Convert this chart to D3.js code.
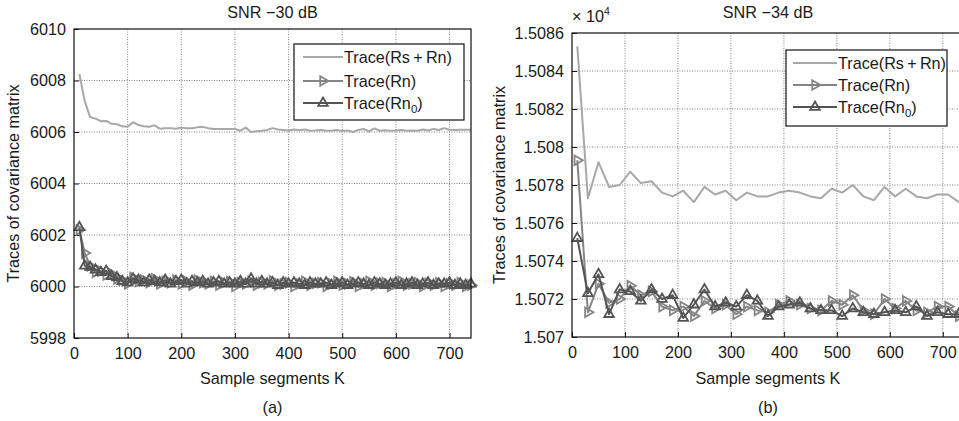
<!DOCTYPE html>
<html>
<head>
<meta charset="utf-8">
<script src="https://cdnjs.cloudflare.com/ajax/libs/d3/7.8.5/d3.min.js"></script>
<style>
  body { margin: 0; background: #fff; }
  text { font-family: "Liberation Sans", Arial, sans-serif; fill: #1a1a1a; }
</style>
</head>
<body>
<div id="chart"></div>
<script>
// ---- panel (a): SNR -30 dB, sample every 10 segments
const kA = [10,20,30,40,50,60,70,80,90,100,110,120,130,140,150,160,170,180,190,200,
  210,220,230,240,250,260,270,280,290,300,310,320,330,340,350,360,370,380,390,400,
  410,420,430,440,450,460,470,480,490,500,510,520,530,540,550,560,570,580,590,600,
  610,620,630,640,650,660,670,680,690,700,710,720,730,740];
const rsrnA = [6008.25,6007.2,6006.58,6006.52,6006.42,6006.43,6006.32,6006.3,6006.22,6006.2,
  6006.38,6006.27,6006.22,6006.2,6006.26,6006.13,6006.15,6006.15,6006.13,6006.17,
  6006.15,6006.15,6006.18,6006.2,6006.15,6006.12,6006.12,6006.12,6006.12,6006.12,
  6006.05,6006.17,6006.0,6006.03,6006.05,6006.08,6006.15,6006.1,6006.08,6006.06,
  6006.1,6006.07,6006.1,6006.05,6006.06,6006.08,6006.05,6006.05,6006.08,6006.04,
  6006.06,6006.0,6006.08,6006.12,6006.02,6006.14,6006.05,6006.07,6006.05,6006.06,
  6006.08,6006.05,6006.06,6006.05,6006.1,6006.06,6006.12,6006.08,6006.15,6006.09,
  6006.08,6006.09,6006.09,6006.09];
const rnA = [6002.2,6001.3,6000.8,6000.55,6000.6,6000.45,6000.5,6000.3,6000.25,6000.1,
  6000.35,6000.2,6000.25,6000.15,6000.3,6000.1,6000.2,6000.15,6000.25,6000.1,
  6000.2,6000.05,6000.25,6000.15,6000.1,6000.2,6000.05,6000.15,6000.2,6000.0,
  6000.15,6000.1,6000.2,6000.05,6000.15,6000.1,6000.22,6000.05,6000.1,6000.15,
  6000.0,6000.1,6000.2,6000.05,6000.12,6000.15,6000.0,6000.1,6000.2,6000.05,
  6000.1,6000.18,6000.0,6000.1,6000.2,6000.05,6000.12,6000.15,6000.0,6000.1,
  6000.2,6000.05,6000.1,6000.15,6000.0,6000.12,6000.05,6000.15,6000.0,6000.1,
  6000.05,6000.15,6000.0,6000.05];
const rn0A = [6002.3,6000.8,6000.75,6000.65,6000.55,6000.6,6000.4,6000.35,6000.2,6000.15,
  6000.3,6000.25,6000.15,6000.25,6000.2,6000.15,6000.25,6000.1,6000.2,6000.25,
  6000.1,6000.2,6000.15,6000.2,6000.1,6000.15,6000.2,6000.1,6000.15,6000.1,
  6000.2,6000.1,6000.3,6000.1,6000.2,6000.1,6000.15,6000.05,6000.15,6000.1,
  6000.15,6000.1,6000.05,6000.15,6000.1,6000.1,6000.15,6000.05,6000.1,6000.15,
  6000.05,6000.1,6000.15,6000.1,6000.05,6000.15,6000.1,6000.05,6000.1,6000.15,
  6000.05,6000.1,6000.15,6000.05,6000.1,6000.15,6000.05,6000.1,6000.1,6000.15,
  6000.05,6000.1,6000.05,6000.1];
const yTicksA = [5998, 6000, 6002, 6004, 6006, 6008, 6010];
const yLabelsA = ["5998", "6000", "6002", "6004", "6006", "6008", "6010"];

// ---- panel (b): SNR -34 dB, sample every 20 segments
const kB = [10,30,50,70,90,110,130,150,170,190,210,230,250,270,290,310,330,350,370,
  390,410,430,450,470,490,510,530,550,570,590,610,630,650,670,690,710,730];
const rsrnB = [15085.3,15077.3,15079.2,15077.9,15078.0,15078.7,15078.1,15078.2,15077.6,15077.4,
  15077.7,15077.1,15077.9,15077.5,15077.7,15077.2,15077.6,15077.4,15077.4,
  15077.6,15077.7,15077.6,15077.4,15077.3,15077.8,15077.6,15078.0,15077.4,15077.2,
  15077.9,15077.4,15077.8,15077.4,15077.3,15077.5,15077.5,15077.1];
const rnB = [15079.3,15071.3,15072.8,15071.8,15072.0,15072.7,15072.2,15072.4,15071.6,15071.4,
  15071.6,15071.1,15071.9,15071.5,15071.7,15071.2,15071.6,15071.4,15071.3,
  15071.7,15071.9,15071.7,15071.5,15071.4,15071.9,15071.7,15072.2,15071.4,15071.2,
  15072.0,15071.5,15071.9,15071.4,15071.3,15071.6,15071.6,15071.1];
const rn0B = [15075.2,15072.3,15073.3,15071.2,15072.5,15072.4,15071.9,15072.5,15072.0,15072.2,
  15071.0,15071.7,15072.5,15071.6,15071.8,15071.6,15072.2,15071.9,15071.1,
  15071.6,15071.7,15071.8,15071.5,15071.4,15071.4,15071.1,15071.5,15071.3,15071.2,
  15071.3,15071.4,15071.3,15071.6,15071.1,15071.3,15071.2,15071.2];
const yTicksB = [15070, 15072, 15074, 15076, 15078, 15080, 15082, 15084, 15086];
const yLabelsB = ["1.507", "1.5072", "1.5074", "1.5076", "1.5078", "1.508", "1.5082", "1.5084", "1.5086"];

const xTicks = [0, 100, 200, 300, 400, 500, 600, 700];
const xLabels = ["0", "100", "200", "300", "400", "500", "600", "700"];

const W = 959, H = 421;
const FS = 16.2;
const colRsRn = "#a8a8a8", colRn = "#858585", colRn0 = "#545454";

const svg = d3.select("#chart").append("svg")
  .attr("width", W).attr("height", H);

const triUp = d3.symbol().type(d3.symbolTriangle).size(40);

function panel(opt) {
  const x = d3.scaleLinear().domain([0, 740]).range([opt.left, opt.right]);
  const y = d3.scaleLinear().domain(opt.yDomain).range([opt.bottom, opt.top]);
  const g = svg.append("g");

  // grid (MATLAB style dotted)
  g.append("g").selectAll("line").data(xTicks.slice(1)).join("line")
    .attr("x1", d => x(d)).attr("x2", d => x(d))
    .attr("y1", opt.top).attr("y2", opt.bottom)
    .attr("stroke", "#666").attr("stroke-width", 0.8).attr("stroke-dasharray", "1,1.5");
  g.append("g").selectAll("line").data(opt.yTicks.slice(1, -1)).join("line")
    .attr("x1", opt.left).attr("x2", opt.right)
    .attr("y1", d => y(d)).attr("y2", d => y(d))
    .attr("stroke", "#666").attr("stroke-width", 0.8).attr("stroke-dasharray", "1,1.5");

  // axes with inward ticks
  const xAx = g.append("g").attr("transform", `translate(0,${opt.bottom})`)
    .call(d3.axisBottom(x).tickValues(xTicks).tickSizeInner(-5).tickSizeOuter(0)
      .tickPadding(9).tickFormat((d, i) => xLabels[i]));
  const yAx = g.append("g").attr("transform", `translate(${opt.left},0)`)
    .call(d3.axisLeft(y).tickValues(opt.yTicks).tickSizeInner(-5).tickSizeOuter(0)
      .tickPadding(8).tickFormat((d, i) => opt.yLabels[i]));
  [xAx, yAx].forEach(a => {
    a.select(".domain").remove();
    a.selectAll("text").attr("font-size", FS).attr("fill", "#1a1a1a")
      .style("font-family", '"Liberation Sans", Arial, sans-serif');
    a.selectAll(".tick line").attr("stroke", "#111");
  });

  // series
  const line = d3.line().x(d => x(d[0])).y(d => y(d[1]));
  const series = [
    { v: opt.rsrn, c: colRsRn, m: null },
    { v: opt.rn, c: colRn, m: "right" },
    { v: opt.rn0, c: colRn0, m: "up" }
  ];
  series.forEach(s => {
    const pts = opt.k.map((k, i) => [k, s.v[i]]);
    g.append("path").datum(pts).attr("d", line)
      .attr("fill", "none").attr("stroke", s.c).attr("stroke-width", 2)
      .attr("stroke-linejoin", "round");
    if (s.m) {
      g.append("g").selectAll("path").data(pts).join("path")
        .attr("d", triUp)
        .attr("transform", d => `translate(${x(d[0])},${y(d[1])})` + (s.m === "right" ? " rotate(90)" : ""))
        .attr("fill", "none").attr("stroke", s.c).attr("stroke-width", 1.8);
    }
  });

  // frame
  g.append("rect").attr("x", opt.left).attr("y", opt.top)
    .attr("width", opt.right - opt.left).attr("height", opt.bottom - opt.top)
    .attr("fill", "none").attr("stroke", "#111").attr("stroke-width", 1.2);

  // legend
  const L = opt.legend;
  g.append("rect").attr("x", L.x).attr("y", L.y).attr("width", L.w).attr("height", L.h)
    .attr("fill", "#fff").attr("stroke", "#111").attr("stroke-width", 1.2);
  const names = [["Trace(Rs\u2009+\u2009Rn)"], ["Trace(Rn)"], ["Trace(Rn", "0", ")"]];
  series.forEach((s, i) => {
    const ly = L.rows[i];
    g.append("line").attr("x1", L.lx0).attr("x2", L.lx1).attr("y1", ly).attr("y2", ly)
      .attr("stroke", s.c).attr("stroke-width", 2);
    if (s.m) {
      g.append("path").attr("d", triUp)
        .attr("transform", `translate(${(L.lx0 + L.lx1) / 2},${ly})` + (s.m === "right" ? " rotate(90)" : ""))
        .attr("fill", "none").attr("stroke", s.c).attr("stroke-width", 1.8);
    }
    const t = g.append("text").attr("x", L.lx1 + 1).attr("y", ly + 6).attr("font-size", FS);
    t.append("tspan").text(names[i][0]);
    if (names[i].length > 1) {
      t.append("tspan").attr("font-size", 11.5).attr("dy", 4).text(names[i][1]);
      t.append("tspan").attr("dy", -4).text(names[i][2]);
    }
  });

  const mid = (opt.left + opt.right) / 2;
  // title
  g.append("text").attr("x", mid).attr("y", 18).attr("text-anchor", "middle")
    .attr("font-size", FS).text(opt.title);
  // x label + panel tag
  g.append("text").attr("x", mid).attr("y", 384).attr("text-anchor", "middle")
    .attr("font-size", FS).text("Sample segments K");
  g.append("text").attr("x", mid).attr("y", 413).attr("text-anchor", "middle")
    .attr("font-size", FS).text(opt.tag);
  // y label
  const ym = (opt.top + opt.bottom) / 2;
  g.append("text").attr("transform", `translate(${opt.ylabX},${ym}) rotate(-90)`)
    .attr("text-anchor", "middle").attr("font-size", FS)
    .text("Traces of covariance matrix");
  return { x, y, g };
}

panel({
  left: 74, right: 471, top: 29, bottom: 338,
  yDomain: [5998, 6010], yTicks: yTicksA, yLabels: yLabelsA,
  k: kA, rsrn: rsrnA, rn: rnA, rn0: rn0A,
  title: "SNR \u221230 dB", tag: "(a)", ylabX: 19,
  legend: { x: 294, y: 44, w: 170, h: 76, lx0: 303, lx1: 343, rows: [57, 81, 103] }
});

const pb = panel({
  left: 572, right: 964, top: 33, bottom: 337,
  yDomain: [15070, 15086], yTicks: yTicksB, yLabels: yLabelsB,
  k: kB, rsrn: rsrnB, rn: rnB, rn0: rn0B,
  title: "SNR \u221234 dB", tag: "(b)", ylabX: 505,
  legend: { x: 786, y: 50, w: 161, h: 76, lx0: 793, lx1: 837, rows: [63, 85, 107] }
});

// exponent label for panel (b)
const ex = pb.g.append("text").attr("x", 572).attr("y", 22).attr("font-size", FS);
ex.append("tspan").text("\u00d7 10");
ex.append("tspan").attr("font-size", 10.5).attr("dy", -7).text("4");
</script>
</body>
</html>
